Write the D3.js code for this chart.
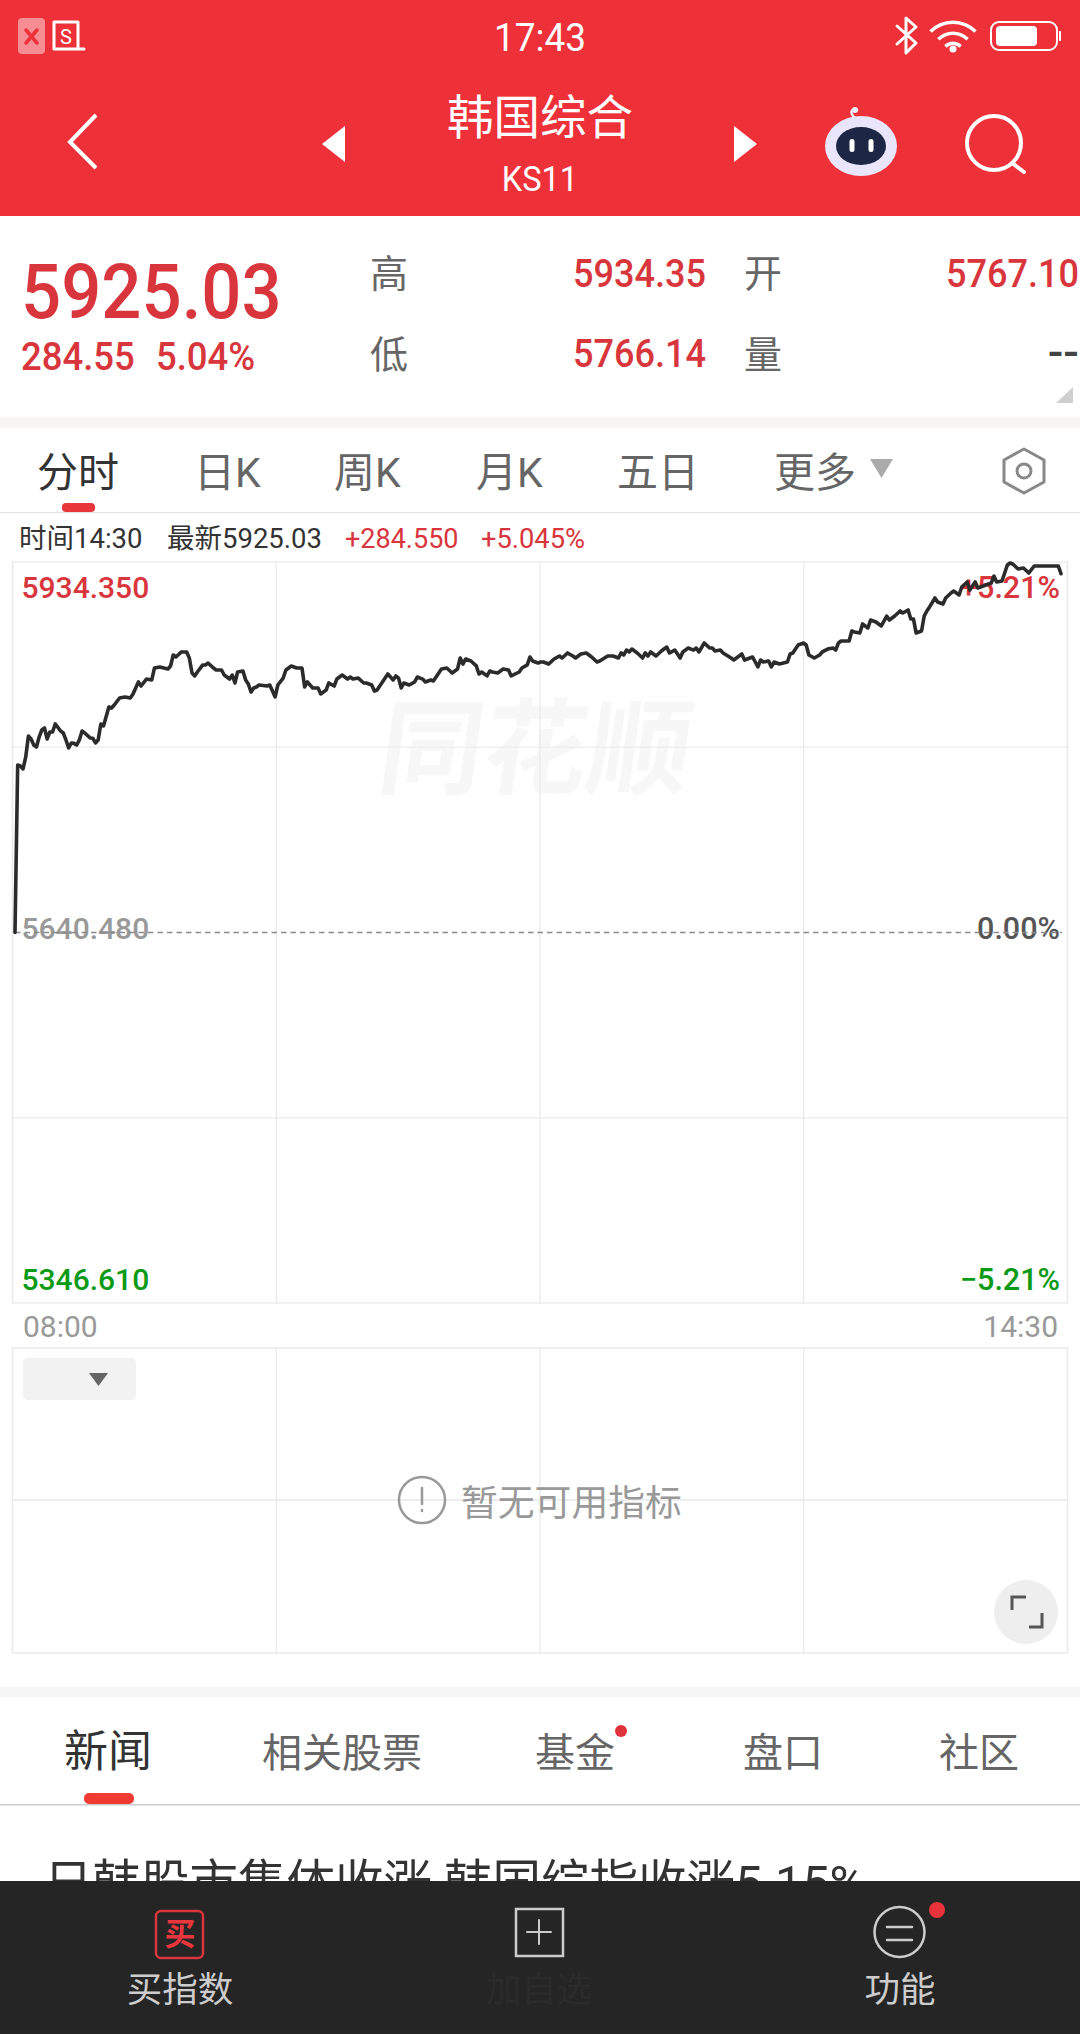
<!DOCTYPE html>
<html>
<head>
<meta charset="utf-8">
<script src="https://cdn.jsdelivr.net/npm/d3@7"></script>
<style>
html, body { margin: 0; padding: 0; background: #fff; }
svg { display: block; }
text { font-family: Roboto, "Noto Sans CJK SC", sans-serif; }
</style>
</head>
<body>
<script>
//minutes after 08:00 and index level
var minutes = [0,1,2,3,4,5,6,7,8,9,10,11,12,13,14,15,17,18,19,20,21,22,23,24,25,26,28,29,30,31,32,33,35,36,37,39,41,43,44,46,47,49,51,52,54,57,58,59,60,62,64,65,66,67,68,70,71,72,74,75,77,78,80,81,82,83,85,86,87,88,89,90,91,94,95,97,98,100,101,103,105,107,108,109,111,113,114,116,117,119,120,122,124,125,126,128,130,131,133,134,135,137,139,141,142,143,144,145,147,149,150,152,153,155,156,157,159,161,163,165,166,167,168,170,172,173,174,176,177,178,180,182,184,185,188,189,191,192,193,195,196,197,199,201,203,204,206,208,209,211,213,215,217,218,221,223,225,226,227,228,229,230,232,234,235,236,237,239,241,243,244,246,248,249,251,253,254,255,257,259,260,261,263,264,267,268,271,272,275,277,278,279,281,282,283,285,288,289,290,292,294,295,296,298,300,301,303,305,306,307,308,311,312,313,315,316,318,319,321,323,325,326,328,330,331,333,334,335,336,338,339,340,341,343,344,346,347,349,350,352,353,355,356,358,359,361,364,365,366,368,370,371,372,374,376,378,380,389,390];
var prices = [5640.48,5773.3,5772.5,5770.2,5779.7,5796.3,5794.0,5789.2,5787.6,5795.5,5801.1,5802.7,5794.0,5799.5,5799.5,5805.9,5800.3,5798.7,5793.2,5786.8,5790.8,5790.5,5789.2,5793.2,5800.3,5798.7,5794.8,5794.6,5790.8,5793.2,5805.9,5804.3,5819.3,5818.5,5820.9,5826.5,5827.3,5826.5,5829.7,5839.2,5836.0,5841.5,5840.8,5850.3,5851.1,5849.5,5851.9,5860.6,5859.0,5863.0,5863.0,5858.2,5846.3,5844.0,5847.1,5852.7,5852.7,5854.2,5850.3,5848.7,5848.7,5844.7,5841.5,5844.7,5838.4,5847.1,5847.9,5840.8,5837.6,5831.2,5834.4,5835.2,5836.8,5836.0,5836.8,5827.3,5836.8,5842.3,5848.7,5851.9,5850.3,5850.3,5835.2,5839.2,5834.4,5834.4,5829.7,5832.8,5838.4,5836.0,5841.5,5844.7,5841.5,5843.1,5841.5,5842.3,5838.4,5838.4,5836.8,5832.0,5832.8,5839.2,5845.5,5840.8,5844.0,5842.3,5834.4,5838.4,5836.8,5839.2,5843.1,5841.5,5839.2,5840.8,5840.0,5843.1,5849.5,5850.3,5846.3,5849.5,5858.2,5853.4,5857.4,5855.8,5851.9,5845.5,5847.1,5844.0,5847.9,5847.1,5846.3,5849.5,5848.7,5844.0,5847.1,5850.3,5852.7,5859.0,5855.8,5854.2,5855.0,5855.0,5853.4,5857.4,5859.8,5858.2,5862.2,5859.8,5858.2,5861.4,5862.2,5859.0,5855.0,5855.8,5859.8,5859.8,5858.2,5862.2,5860.6,5864.5,5863.0,5865.3,5862.2,5858.2,5862.2,5859.8,5863.0,5859.8,5863.8,5866.9,5862.2,5864.5,5858.2,5863.0,5866.1,5864.5,5866.1,5863.0,5870.1,5866.1,5866.1,5863.8,5864.5,5862.2,5858.2,5856.6,5861.4,5856.6,5859.0,5851.1,5856.6,5855.0,5855.8,5851.1,5855.0,5853.4,5855.0,5861.4,5862.2,5868.5,5870.1,5868.5,5860.6,5858.2,5860.6,5863.0,5865.3,5866.1,5864.5,5870.1,5871.7,5871.7,5879.6,5878.8,5878.0,5885.2,5882.0,5888.3,5886.8,5883.6,5891.5,5888.3,5891.5,5895.5,5893.9,5896.3,5889.1,5889.1,5878.0,5879.6,5891.5,5895.5,5898.7,5905.8,5902.6,5901.0,5905.8,5909.8,5911.3,5908.2,5914.5,5918.5,5912.1,5918.5,5913.7,5915.3,5917.7,5923.2,5918.5,5919.3,5932.0,5933.6,5932.8,5928.8,5929.6,5925.6,5931.2,5931.2,5925.03];

var priceTop = 5934.35, priceMid = 5640.48, priceBottom = 5346.61;
var rangeTicks = [priceTop, 5787.415, priceMid, 5493.545, priceBottom];
var columnTicks = [0, 1, 2, 3, 4];
var timeLabels = ["08:00", "14:30"];
var priceLabels = ["5934.350", "5640.480", "5346.610"];
var percentLabels = ["+5.21%", "0.00%", "−5.21%"];
var periodTabs = ["分时", "日K", "周K", "月K", "五日", "更多"];
var newsTabs = ["新闻", "相关股票", "基金", "盘口", "社区"];

var red = "#d8363c", header = "#ee3039", green = "#0a9a15", grid = "#e8e8e8";

var svg = d3.select("body").append("svg").attr("width", 1080).attr("height", 2034);
svg.append("rect").attr("width", 1080).attr("height", 2034).attr("fill", "#fff");

//sx squeezes the glyphs sideways, the screenshot's digits are narrow and tall
function label(x, y, str, size, color, anchor, weight, sx){
    return svg.append("text")
        .attr("transform", "translate(" + x + "," + y + ") scale(" + (sx || 1) + ",1)")
        .attr("font-size", size)
        .attr("fill", color)
        .attr("text-anchor", anchor || "start")
        .attr("font-weight", weight || 400)
        .text(str);
}
function stroke(d, color, w){
    return svg.append("path").attr("d", d).attr("fill", "none")
        .attr("stroke", color).attr("stroke-width", w)
        .attr("stroke-linecap", "round").attr("stroke-linejoin", "round");
}
function solid(d, color){
    return svg.append("path").attr("d", d).attr("fill", color);
}

//red header
svg.append("rect").attr("width", 1080).attr("height", 216).attr("fill", header);
label(540, 51, "17:43", 39, "#fff", "middle", 400, 0.95);
label(540, 134, "韩国综合", 46.5, "#fff", "middle");
label(540, 191, "KS11", 35, "#fff", "middle", 400, 0.93);
svg.append("rect").attr("x", 18).attr("y", 18).attr("width", 27).attr("height", 36).attr("rx", 4).attr("fill", "#f68d92");
stroke("M26 30L37 43M37 30L26 43", header, 3.5);
stroke("M54 22H78V49H54ZM78 49H84", "#fff", 3);
label(66, 44, "S", 20, "#fff", "middle");
stroke("M897 26L916 43L906 53V18L916 27L897 44", "#fff", 3);
var wifiArc = d3.arc().startAngle(-Math.PI / 4).endAngle(Math.PI / 4);
[[30, 33.5], [19, 22.5], [9, 12.5]].forEach(function(r){
    svg.append("path").attr("transform", "translate(953,54)")
        .attr("d", wifiArc({innerRadius: r[0], outerRadius: r[1]})).attr("fill", "#fff");
});
svg.append("circle").attr("cx", 953).attr("cy", 49).attr("r", 3.5).attr("fill", "#fff");
svg.append("rect").attr("x", 991).attr("y", 22).attr("width", 66).attr("height", 28).attr("rx", 8)
    .attr("fill", "none").attr("stroke", "#fff").attr("stroke-width", 2);
svg.append("rect").attr("x", 996).attr("y", 26).attr("width", 41).attr("height", 20).attr("rx", 4).attr("fill", "#fff");
svg.append("rect").attr("x", 1059).attr("y", 31).attr("width", 2).attr("height", 10).attr("fill", "#fff");
stroke("M96 115L70 142L96 168", "#fff", 4).attr("stroke-linecap", "butt").attr("stroke-linejoin", "miter");
solid("M345 126V162L322 144Z", "#fff");
solid("M734 126V162L757 144Z", "#fff");
stroke("M855 118C848 112 853 107 857 110", "#eef", 2.5);
svg.append("circle").attr("cx", 855).attr("cy", 110).attr("r", 3).attr("fill", "#eef");
svg.append("ellipse").attr("cx", 861).attr("cy", 146).attr("rx", 36).attr("ry", 30).attr("fill", "#e9e6fb");
svg.append("ellipse").attr("cx", 861).attr("cy", 146).attr("rx", 25).attr("ry", 19).attr("fill", "#1d2745");
svg.selectAll(".eye").data([852, 871]).enter().append("rect").attr("class", "eye")
    .attr("x", function(d){ return d - 2.5; }).attr("y", 139).attr("width", 5).attr("height", 13).attr("rx", 2.5).attr("fill", "#fff");
svg.append("circle").attr("cx", 994).attr("cy", 143).attr("r", 27).attr("fill", "none").attr("stroke", "#fff").attr("stroke-width", 4);
stroke("M1012 163L1024 172", "#fff", 4);

//quote block
label(21, 318, "5925.03", 76, red, "start", 500, 0.93);
label(21, 370, "284.55", 38, red, "start", 500, 0.96);
label(156, 370, "5.04%", 38, red, "start", 500, 0.96);
label(370, 287, "高", 38, "#666");
label(370, 368, "低", 38, "#666");
label(744, 287, "开", 38, "#666");
label(744, 368, "量", 38, "#666");
label(706, 287, "5934.35", 38, red, "end", 500, 0.95);
label(706, 367, "5766.14", 38, red, "end", 500, 0.95);
label(1079, 287, "5767.10", 38, red, "end", 500, 0.95);
label(1079, 368, "--", 46, "#444", "end", 500);
solid("M1073 387V403H1056Z", "#cfcfcf");
svg.append("rect").attr("y", 417).attr("width", 1080).attr("height", 11).attr("fill", "#f8f4f4");

//period tabs
var tabX = d3.scaleOrdinal().domain(periodTabs).range([37, 194, 334, 476, 617, 774]);
svg.selectAll(".ptab").data(periodTabs).enter().append("text").attr("class", "ptab")
    .attr("x", function(d){ return tabX(d); }).attr("y", 487)
    .attr("font-size", 41)
    .attr("fill", function(d, i){ return i == 0 ? "#333" : "#666"; })
    .text(function(d){ return d; });
solid("M870 459H893L881.5 478Z", "#aaa");
stroke("M1024 449L1044 460V482L1024 493L1004 482V460Z", "#888", 3);
svg.append("circle").attr("cx", 1024).attr("cy", 471).attr("r", 7).attr("fill", "none").attr("stroke", "#888").attr("stroke-width", 3);
svg.append("rect").attr("x", 0).attr("y", 512).attr("width", 1080).attr("height", 1).attr("fill", "#e4e4e4");
svg.append("rect").attr("x", 62).attr("y", 503).attr("width", 33).attr("height", 9).attr("rx", 4).attr("fill", "#e8363a");

//crosshair read-out
label(19, 548, "时间14:30", 27.5, "#333");
label(167, 548, "最新5925.03", 27.5, "#333");
label(345, 548, "+284.550", 27, red);
label(481, 548, "+5.045%", 27.3, red);

//scales
var x = d3.scaleLinear().domain([0, 390]).range([15, 1061]);
var y = d3.scaleLinear().domain([priceBottom, priceTop]).range([1303, 562]);
var gridX = d3.scaleLinear().domain([0, 4]).range([12.5, 1067.5]);

//watermark sits under the grid
svg.append("text").attr("x", 531).attr("y", 786).attr("transform", "skewX(-8) translate(110.5,0)")
    .attr("text-anchor", "middle").attr("font-size", 104).attr("font-weight", 700)
    .attr("fill", "#f7f7f7").text("同花顺");

//main grid
svg.selectAll(".hgrid").data(rangeTicks.filter(function(d){ return d != priceMid; })).enter().append("line").attr("class", "hgrid")
    .attr("x1", 12).attr("x2", 1068)
    .attr("y1", function(d){ return y(d); }).attr("y2", function(d){ return y(d); })
    .attr("stroke", "#eee").attr("stroke-width", 1.5);
svg.selectAll(".vgrid").data(columnTicks).enter().append("line").attr("class", "vgrid")
    .attr("x1", function(d){ return gridX(d); }).attr("x2", function(d){ return gridX(d); })
    .attr("y1", y(priceTop)).attr("y2", y(priceBottom))
    .attr("stroke", grid).attr("stroke-width", function(d, i){ return i == 0 || i == 4 ? 1.5 : 1.2; });

//price and percent labels
var labelColors = [red, "#999", green];
var percentColors = [red, "#555", green];
svg.selectAll(".plabel").data(priceLabels).enter().append("text").attr("class", "plabel")
    .attr("x", 21.5)
    .attr("y", function(d, i){ return y(+d) + [36, 6.5, -13][i]; })
    .attr("font-size", 30).attr("font-weight", 500)
    .attr("fill", function(d, i){ return labelColors[i]; })
    .text(function(d){ return d; });
svg.selectAll(".pctlabel").data(percentLabels).enter().append("text").attr("class", "pctlabel")
    .attr("x", 1060)
    .attr("y", function(d, i){ return y(+priceLabels[i]) + [36, 6.5, -13][i]; })
    .attr("font-size", 30.5).attr("font-weight", 500).attr("text-anchor", "end")
    .attr("fill", function(d, i){ return percentColors[i]; })
    .text(function(d){ return d; });

//previous close
svg.append("line")
    .attr("x1", 15).attr("x2", 1062)
    .attr("y1", y(priceMid)).attr("y2", y(priceMid))
    .attr("stroke", "#8a8a8a").attr("stroke-width", 1.6)
    .attr("stroke-dasharray", "5.5,4");

//price line
var priceLine = d3.line()
    .x(function(d, i){ return x(minutes[i]); })
    .y(function(d){ return y(d); });
svg.append("path").datum(prices)
    .attr("d", priceLine)
    .attr("fill", "none").attr("stroke", "#2b2b2b").attr("stroke-width", 3.6)
    .attr("stroke-linejoin", "round").attr("stroke-linecap", "round");

label(23, 1337, timeLabels[0], 30, "#999");
label(1058, 1337, timeLabels[1], 30, "#999", "end");

//indicator panel
svg.append("rect").attr("x", 12.5).attr("y", 1348).attr("width", 1055).attr("height", 305)
    .attr("fill", "none").attr("stroke", "#eaeaea").attr("stroke-width", 1.5);
svg.selectAll(".subgrid").data([1, 2, 3]).enter().append("line").attr("class", "subgrid")
    .attr("x1", function(d){ return gridX(d); }).attr("x2", function(d){ return gridX(d); })
    .attr("y1", 1348).attr("y2", 1653)
    .attr("stroke", grid).attr("stroke-width", 1.2);
svg.append("line").attr("x1", 12).attr("x2", 1068).attr("y1", 1500).attr("y2", 1500).attr("stroke", grid).attr("stroke-width", 1.5);
svg.append("rect").attr("x", 23).attr("y", 1358).attr("width", 113).attr("height", 42).attr("rx", 5).attr("fill", "#f2f2f2");
solid("M89 1373H108L98.5 1386Z", "#666");
svg.append("circle").attr("cx", 422).attr("cy", 1500).attr("r", 23).attr("fill", "none").attr("stroke", "#999").attr("stroke-width", 2.5);
stroke("M422 1488V1504M422 1510V1511", "#999", 2.5);
label(461, 1516, "暂无可用指标", 36.8, "#999");
svg.append("circle").attr("cx", 1026).attr("cy", 1612).attr("r", 32).attr("fill", "#eee");
stroke("M1012 1610V1597H1026", "#555", 3).attr("stroke-linecap", "butt").attr("stroke-linejoin", "miter");
stroke("M1042 1613V1627H1029", "#555", 3).attr("stroke-linecap", "butt").attr("stroke-linejoin", "miter");

//news area
svg.append("rect").attr("y", 1687).attr("width", 1080).attr("height", 10).attr("fill", "#f7f6f6");
var newsX = d3.scaleOrdinal().domain(newsTabs).range([64, 262, 535, 743, 939]);
svg.selectAll(".ntab").data(newsTabs).enter().append("text").attr("class", "ntab")
    .attr("x", function(d){ return newsX(d); }).attr("y", 1767)
    .attr("font-size", function(d, i){ return i == 0 ? 44 : 40; })
    .attr("fill", function(d, i){ return i == 0 ? "#333" : "#666"; })
    .text(function(d){ return d; });
svg.append("circle").attr("cx", 621).attr("cy", 1731).attr("r", 6).attr("fill", "#e0323a");
svg.append("rect").attr("y", 1804).attr("width", 1080).attr("height", 1.5).attr("fill", "#ccc");
svg.append("rect").attr("x", 84).attr("y", 1793).attr("width", 50).attr("height", 11).attr("rx", 5).attr("fill", "#f23a35");
label(44, 1900, "日韩股市集体收涨 韩国综指收涨5.15%", 48.5, "#333");

//bottom bar
svg.append("rect").attr("y", 1881).attr("width", 1080).attr("height", 153).attr("fill", "#252525");
svg.append("rect").attr("x", 156).attr("y", 1911).attr("width", 47).attr("height", 47).attr("rx", 5)
    .attr("fill", "none").attr("stroke", "#d8363c").attr("stroke-width", 2.5);
label(180, 1945, "买", 31, "#e8363c", "middle", 700);
label(180, 2002, "买指数", 35.5, "#ccc", "middle");
svg.append("rect").attr("x", 516).attr("y", 1909).attr("width", 47).attr("height", 47)
    .attr("fill", "none").attr("stroke", "#ccc").attr("stroke-width", 2.5);
stroke("M527 1932H551M539 1920V1944", "#ccc", 2);
label(539, 2002, "加自选", 35.5, "#2b2b2b", "middle");
svg.append("circle").attr("cx", 899.5).attr("cy", 1932).attr("r", 25).attr("fill", "none").attr("stroke", "#ccc").attr("stroke-width", 2.5);
stroke("M887 1927H912M887 1940H912", "#ccc", 2.5);
svg.append("circle").attr("cx", 937).attr("cy", 1910).attr("r", 8).attr("fill", "#e8333a");
label(900, 2002, "功能", 35.5, "#ccc", "middle");
</script>
</body>
</html>
